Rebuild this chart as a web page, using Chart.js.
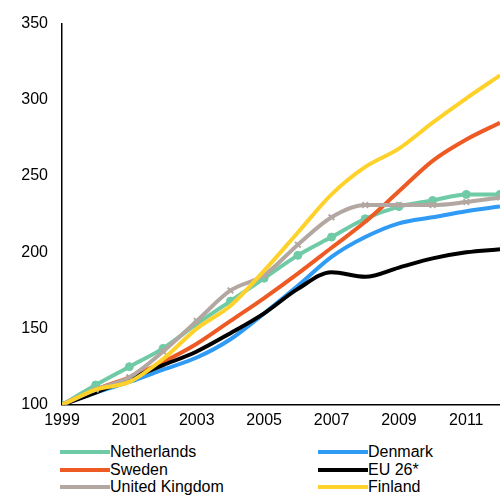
<!DOCTYPE html><html><head><script src="https://cdn.jsdelivr.net/npm/chart.js@4"></script>
<style>body{margin:0;overflow:hidden;font-family:"Liberation Sans",Arial,sans-serif;background:#fff}
#w{position:relative;width:500px;height:496px;overflow:hidden}
#lg{position:absolute;top:443px;left:0;width:500px}
.it{position:absolute;font-size:16px;line-height:18px;height:18px;white-space:nowrap}
.sw{position:absolute;top:7px;left:0;width:50px;height:4px}
.tx{position:absolute;left:50px;top:0}</style></head><body><div id="w">
<canvas id="c" width="506" height="436" style="position:absolute;left:0;top:0;width:506px;height:436px"></canvas><div id="lg"></div></div>
<script>
const years=[1999,2000,2001,2002,2003,2004,2005,2006,2007,2008,2009,2010,2011,2012];
const netherlands=[100,113,125,137,153,168,183,198,210,222,230,234,238,238];
const denmark=[100,108,115,123,131,143,160,178,197,210,219,223,227,230];
const sweden=[100,110,118,128,140,155,170,186,203,220,240,260,274,285];
const eu26=[100,108,117,126,135,147,160,176,187,184,190,196,200,202];
const uk=[100,110,118,135,155,175,185,205,223,231,231,231,233,236];
const finland=[100,110,115,130,150,165,188,213,238,256,268,285,301,316];
const tickLabels=[1999,2001,2003,2005,2007,2009,2011];
const series=[
 {n:'Netherlands',d:netherlands,c:'#6fcaa6',p:'circle'},
 {n:'Denmark',d:denmark,c:'#2f9bf5',p:false},
 {n:'Sweden',d:sweden,c:'#ee5a24',p:false},
 {n:'EU 26*',d:eu26,c:'#000000',p:false},
 {n:'United Kingdom',d:uk,c:'#b3a7a2',p:'crossRot'},
 {n:'Finland',d:finland,c:'#ffd22b',p:false}];
const order=[3,1,2,0,4,5];
new Chart(document.getElementById('c'),{type:'line',
 data:{datasets:order.map(i=>{const s=series[i];return{label:s.n,data:years.map((y,k)=>({x:y,y:s.d[k]})),borderColor:s.c,backgroundColor:s.c,borderWidth:4,tension:0.4,cubicInterpolationMode:'monotone',pointStyle:s.p||'circle',pointRadius:s.p?4:0,pointBorderWidth:s.p=='crossRot'?2:1,order:-i}})},
 options:{animation:false,responsive:false,plugins:{legend:{display:false},tooltip:{enabled:false}},
 layout:{padding:{left:0,right:0,top:11,bottom:0}},
 scales:{x:{type:'linear',min:1999,max:2012,afterBuildTicks:a=>{a.ticks=tickLabels.map(v=>({value:v}))},grid:{display:false,drawTicks:false},border:{color:'#000',width:1.5},ticks:{color:'#000',font:{size:16,family:'Liberation Sans'},padding:6,maxRotation:0,autoSkip:false,callback:v=>String(v)}},
 y:{min:100,max:350,afterFit:a=>{a.width=62},grid:{display:false,drawTicks:false},border:{color:'#000',width:1.5},ticks:{stepSize:50,color:'#000',font:{size:16,family:'Liberation Sans'},padding:14}}}}});
const lg=document.getElementById('lg');
series.forEach((s,i)=>{const d=document.createElement('div');d.className='it';d.style.left=(i%2?318:60)+'px';d.style.top=(Math.floor(i/2)*17.5)+'px';
d.innerHTML='<div class="sw" style="background:'+s.c+'"></div><span class="tx">'+s.n+'</span>';lg.appendChild(d);});
</script></body></html>
